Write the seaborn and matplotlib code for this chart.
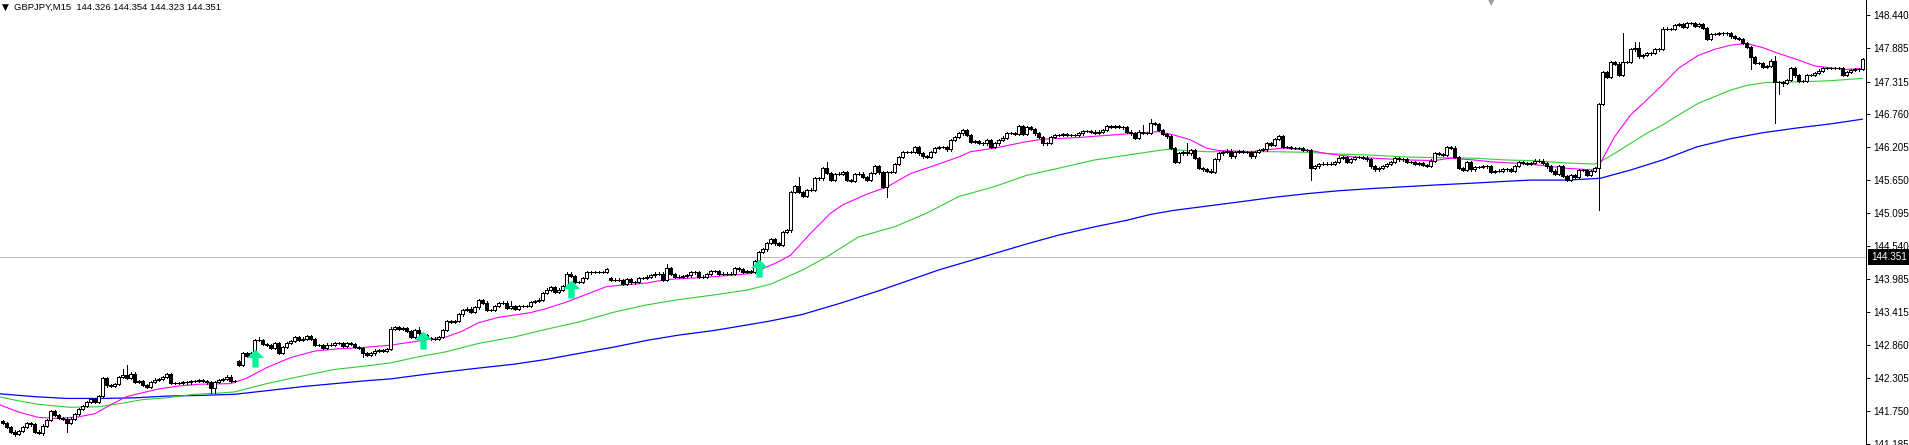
import numpy as np
import matplotlib
matplotlib.use("Agg")
import matplotlib.pyplot as plt
from matplotlib.path import Path
import seaborn as sns

# ─────────────────────────────
# DATA
# ─────────────────────────────
SYMBOL = "GBPJPY,M15"
LAST_BAR = ["144.326", "144.354", "144.323", "144.351"]
BID = 144.351

FIRST_OPEN = 141.58
CLOSES = [
    141.55, 141.48, 141.40, 141.36, 141.41, 141.48, 141.55, 141.52, 141.40, 141.38,
    141.50, 141.60, 141.74, 141.68, 141.63, 141.62, 141.55, 141.62, 141.70, 141.78,
    141.83, 141.90, 141.95, 141.90, 142.00, 142.30, 142.18, 142.17, 142.20, 142.32,
    142.35, 142.31, 142.38, 142.24, 142.25, 142.19, 142.15, 142.24, 142.28, 142.29,
    142.32, 142.37, 142.22, 142.22, 142.22, 142.23, 142.23, 142.26, 142.25, 142.27,
    142.25, 142.23, 142.14, 142.24, 142.27, 142.29, 142.33, 142.26, 142.26, 142.52,
    142.73, 142.68, 142.72, 142.95, 142.95, 142.88, 142.86, 142.81, 142.89, 142.73,
    142.83, 142.90, 142.93, 142.99, 142.95, 142.97, 143.01, 142.96, 142.86, 142.86,
    142.82, 142.87, 142.87, 142.90, 142.90, 142.85, 142.89, 142.88, 142.83, 142.81,
    142.72, 142.69, 142.72, 142.77, 142.78, 142.76, 142.80, 143.14, 143.16, 143.14,
    143.15, 143.10, 143.00, 143.12, 143.06, 143.03, 142.98, 142.96, 142.97, 143.00,
    143.12, 143.27, 143.26, 143.27, 143.38, 143.45, 143.48, 143.42, 143.50, 143.62,
    143.58, 143.46, 143.45, 143.52, 143.57, 143.58, 143.49, 143.52, 143.48, 143.52,
    143.52, 143.52, 143.59, 143.61, 143.63, 143.74, 143.80, 143.84, 143.76, 143.80,
    143.86, 144.07, 144.03, 143.93, 143.93, 144.00, 144.09, 144.10, 144.10, 144.10,
    144.10, 144.14, 143.97, 143.97, 143.96, 143.90, 143.98, 143.92, 143.93, 144.00,
    144.00, 144.02, 144.04, 144.07, 144.07, 143.96, 144.16, 144.06, 144.01, 144.02,
    144.03, 144.04, 144.09, 144.10, 144.02, 144.01, 144.06, 144.11, 144.11, 144.07,
    144.07, 144.06, 144.07, 144.16, 144.14, 144.10, 144.11, 144.10, 144.28, 144.43,
    144.48, 144.59, 144.65, 144.58, 144.55, 144.77, 144.80, 145.45, 145.55, 145.45,
    145.38, 145.48, 145.49, 145.68, 145.68, 145.85, 145.77, 145.66, 145.75, 145.76,
    145.79, 145.65, 145.64, 145.75, 145.76, 145.70, 145.66, 145.77, 145.88, 145.78,
    145.53, 145.79, 145.79, 145.92, 146.04, 146.13, 146.13, 146.12, 146.21, 146.10,
    146.05, 146.04, 146.13, 146.19, 146.21, 146.21, 146.17, 146.33, 146.38, 146.44,
    146.50, 146.41, 146.30, 146.31, 146.28, 146.27, 146.33, 146.21, 146.27, 146.33,
    146.37, 146.45, 146.45, 146.43, 146.56, 146.43, 146.54, 146.51, 146.44, 146.38,
    146.27, 146.28, 146.38, 146.41, 146.41, 146.43, 146.41, 146.41, 146.41, 146.44,
    146.48, 146.48, 146.47, 146.45, 146.47, 146.50, 146.56, 146.55, 146.56, 146.55,
    146.54, 146.47, 146.44, 146.36, 146.47, 146.45, 146.45, 146.62, 146.60, 146.50,
    146.43, 146.39, 146.19, 145.96, 146.10, 146.13, 146.10, 146.16, 146.02, 145.85,
    145.83, 145.81, 145.79, 146.00, 146.10, 146.13, 146.15, 146.05, 146.13, 146.14,
    146.12, 146.13, 146.05, 146.13, 146.16, 146.17, 146.28, 146.25, 146.35, 146.40,
    146.21, 146.21, 146.19, 146.19, 146.19, 146.16, 146.16, 145.85, 145.88, 145.92,
    145.93, 145.92, 145.93, 145.96, 146.03, 146.04, 145.96, 146.01, 146.04, 146.04,
    146.03, 146.00, 145.88, 145.83, 145.85, 145.89, 145.92, 145.96, 146.02, 146.00,
    146.00, 145.96, 145.96, 145.93, 145.94, 145.90, 145.89, 145.98, 146.10, 146.09,
    146.08, 146.21, 146.20, 146.04, 145.85, 145.82, 145.96, 145.83, 145.87, 145.87,
    145.88, 145.88, 145.79, 145.80, 145.81, 145.83, 145.84, 145.81, 145.89, 145.96,
    145.94, 145.93, 145.94, 145.98, 145.98, 145.94, 145.88, 145.81, 145.76, 145.88,
    145.72, 145.65, 145.74, 145.70, 145.82, 145.82, 145.74, 145.80, 145.85, 146.94,
    147.48, 147.40, 147.65, 147.62, 147.43, 147.65, 147.65, 147.86, 147.88, 147.74,
    147.76, 147.79, 147.80, 147.86, 147.87, 148.21, 148.20, 148.20, 148.27, 148.29,
    148.24, 148.31, 148.31, 148.26, 148.29, 148.22, 148.03, 148.12, 148.12, 148.13,
    148.14, 148.13, 148.08, 148.05, 148.03, 147.97, 147.90, 147.73, 147.63, 147.63,
    147.57, 147.58, 147.67, 147.31, 147.31, 147.29, 147.34, 147.54, 147.42, 147.33,
    147.32, 147.43, 147.43, 147.46, 147.50, 147.54, 147.54, 147.54, 147.55, 147.55,
    147.43, 147.48, 147.51, 147.52, 147.53, 147.69,
]

# bars that opened away from the previous close
GAP_OPENS = {59: 142.59, 152: 143.99}

# long shadows
HIGH_WICKS = {25: 142.33, 30: 142.46, 31: 142.52, 64: 143.00, 104: 143.17,
              127: 143.60, 166: 144.23, 199: 145.70, 206: 145.96, 285: 146.58,
              287: 146.68, 296: 146.28, 320: 146.42, 405: 148.13, 408: 147.99,
              409: 147.99, 415: 148.24, 443: 147.75}
LOW_WICKS = {2: 141.38, 3: 141.32, 8: 141.37, 10: 141.35, 16: 141.40,
             52: 142.05, 53: 142.05, 90: 142.66, 221: 145.36, 327: 145.65,
             399: 145.15, 437: 147.52, 443: 146.61, 444: 147.10, 445: 147.24}

# moving averages (bar index, price)
MA_FAST_X = [-1, 4, 9, 14, 19, 23, 27, 31, 34, 39, 44, 49, 57, 61, 66, 72, 78, 84,
             90, 97, 103, 111, 115, 119, 124, 132, 136, 141, 146, 151, 154, 161,
             166, 174, 182, 187, 190, 194, 197, 202, 207, 210, 216, 221, 227, 234,
             239, 242, 248, 256, 260, 269, 277, 285, 289, 293, 297, 301, 304, 312,
             316, 320, 326, 331, 338, 343, 351, 358, 362, 368, 372, 382, 391, 398,
             399.4, 403, 407, 411, 415, 419, 424, 428, 432, 436, 440, 444, 449,
             453, 458, 461, 465]
MA_FAST = [141.86, 141.73, 141.64, 141.62, 141.65, 141.70, 141.85, 141.99, 142.04,
           142.12, 142.17, 142.20, 142.21, 142.30, 142.48, 142.65, 142.76, 142.80,
           142.82, 142.86, 142.92, 143.00, 143.10, 143.24, 143.33, 143.41, 143.48,
           143.59, 143.72, 143.85, 143.87, 143.91, 143.97, 144.00, 144.04, 144.07,
           144.15, 144.27, 144.38, 144.75, 145.09, 145.23, 145.41, 145.53, 145.76,
           145.92, 146.04, 146.13, 146.19, 146.30, 146.34, 146.37, 146.41, 146.45,
           146.47, 146.41, 146.33, 146.19, 146.15, 146.13, 146.16, 146.19, 146.16,
           146.10, 146.04, 146.02, 145.99, 145.98, 146.02, 145.99, 145.96, 145.92,
           145.85, 145.82, 145.93, 146.38, 146.75, 147.00, 147.26, 147.54, 147.76,
           147.86, 147.93, 147.96, 147.89, 147.79, 147.68, 147.58, 147.54, 147.52,
           147.54]

MA_MID_X = [-1, 4, 9, 17, 24, 30, 35, 41, 48, 54, 58, 66, 75, 83, 91, 97, 103, 111,
            119, 128, 136, 144, 153, 161, 169, 178, 186, 192, 200, 206, 214, 223,
            231, 239, 248, 256, 264, 273, 281, 287, 291, 301, 318, 326, 334, 343,
            351, 359, 368, 376, 382, 391, 398, 399.4, 403, 407, 411, 415, 419, 424,
            428, 432, 436, 441, 449, 457, 465]
MA_MID = [141.99, 141.92, 141.86, 141.81, 141.82, 141.88, 141.94, 141.97, 142.03,
          142.05, 142.07, 142.21, 142.34, 142.45, 142.51, 142.56, 142.65, 142.75,
          142.89, 143.00, 143.13, 143.25, 143.42, 143.54, 143.63, 143.71, 143.79,
          143.89, 144.13, 144.35, 144.69, 144.86, 145.09, 145.37, 145.54, 145.73,
          145.85, 145.99, 146.07, 146.13, 146.17, 146.13, 146.13, 146.12, 146.09,
          146.07, 146.04, 146.03, 146.02, 145.99, 145.98, 145.94, 145.92, 145.96,
          146.10, 146.27, 146.44, 146.58, 146.75, 146.95, 147.06, 147.17, 147.25,
          147.30, 147.31, 147.33, 147.37]

MA_SLOW_X = [-1, 8, 16, 25, 33, 41, 49, 58, 66, 75, 83, 91, 97, 106, 116, 128, 136,
             144, 153, 161, 169, 178, 186, 192, 200, 210, 220, 234, 248, 256, 264,
             273, 281, 287, 293, 301, 309, 318, 326, 334, 343, 351, 359, 368, 376,
             382, 391, 399.4, 407, 415, 423.5, 432, 440, 448.5, 457, 465]
MA_SLOW = [142.04, 141.99, 141.96, 141.96, 141.97, 142.00, 142.01, 142.03, 142.09,
           142.16, 142.21, 142.26, 142.29, 142.37, 142.45, 142.54, 142.62, 142.72,
           142.83, 142.94, 143.03, 143.11, 143.20, 143.27, 143.38, 143.58, 143.80,
           144.13, 144.41, 144.57, 144.72, 144.86, 144.97, 145.07, 145.14, 145.21,
           145.28, 145.36, 145.42, 145.47, 145.51, 145.54, 145.57, 145.60, 145.63,
           145.65, 145.65, 145.68, 145.82, 145.99, 146.21, 146.35, 146.45, 146.53,
           146.60, 146.68]

# signal arrows (bar index, price of the tip)
ARROW_X = [63, 105, 142, 189]
ARROW_Y = [142.80, 143.10, 143.97, 144.31]

PRICE_TICKS = [148.440, 147.885, 147.315, 146.760, 146.205, 145.650, 145.095,
               144.540, 143.985, 143.415, 142.860, 142.305, 141.750, 141.185]

# ─────────────────────────────
# OHLC
# ─────────────────────────────
closes = np.array(CLOSES)
idx = np.arange(len(closes))
opens = np.concatenate([[FIRST_OPEN], closes[:-1]])
for i, o in GAP_OPENS.items():
    opens[i] = o
WICK = 0.02
highs = np.maximum(opens, closes) + WICK
lows = np.minimum(opens, closes) - WICK
for i, h in HIGH_WICKS.items():
    highs[i] = h
for i, l in LOW_WICKS.items():
    lows[i] = l

# ─────────────────────────────
# PLOT
# ─────────────────────────────
sns.set_style("white")
plt.rcParams["font.family"] = ["Liberation Sans", "DejaVu Sans"]

W, H = 1909, 445
PX = 0.72  # one pixel in points
fig = plt.figure(figsize=(W / 100, H / 100), dpi=100)
ax = fig.add_axes([0, 0, 1866 / W, 1])

ax.axhline(BID, color="#C0C0C0", linewidth=PX, zorder=1)

sns.lineplot(x=MA_SLOW_X, y=MA_SLOW, color="#0000FF", linewidth=0.9,
             estimator=None, sort=False, ax=ax, zorder=2)
sns.lineplot(x=MA_MID_X, y=MA_MID, color="#32CD32", linewidth=0.8,
             estimator=None, sort=False, ax=ax, zorder=2)
sns.lineplot(x=MA_FAST_X, y=MA_FAST, color="#FF00FF", linewidth=0.8,
             estimator=None, sort=False, ax=ax, zorder=2)

# candles
ax.vlines(idx, lows, highs, colors="black", linewidth=PX, zorder=3,
          antialiased=False)
bull = closes >= opens
ax.bar(idx, np.abs(closes - opens), bottom=np.minimum(opens, closes),
       width=0.72, color=np.where(bull, "white", "black"), edgecolor="black",
       linewidth=PX, zorder=4, antialiased=False)

# arrows
verts = [(0, 0), (8, -8), (3, -8), (3, -17), (-3, -17), (-3, -8), (-8, -8), (0, 0)]
codes = [Path.MOVETO] + [Path.LINETO] * 6 + [Path.CLOSEPOLY]
arrow = Path(verts, codes)
ax.plot(ARROW_X, ARROW_Y, linestyle="none", marker=arrow, markersize=26,
        color="#00F59A", markeredgewidth=0, zorder=5)

ax.set_xlim(-0.625, -0.625 + 1866 / 4)
ax.set_ylim(141.173, 148.694)

ax.set_xticks([])
ax.yaxis.tick_right()
ax.set_yticks(PRICE_TICKS)
ax.set_yticklabels([f"{v:.3f}" for v in PRICE_TICKS])
ax.tick_params(axis="y", direction="out", length=3, width=PX, pad=2,
               labelsize=7.1, colors="black")
for side in ["top", "left", "bottom"]:
    ax.spines[side].set_visible(False)
ax.spines["right"].set_color("black")
ax.spines["right"].set_linewidth(PX)

# current price box
ax.text(1.0028, BID, f"{BID:.3f}", transform=ax.get_yaxis_transform(),
        color="white", fontsize=7.1, va="center", ha="left",
        bbox=dict(boxstyle="square,pad=0.28", facecolor="black", edgecolor="none"))

# header
fig.text(2 / W, 1 - 7 / H, "▼", fontsize=6.5, va="center", ha="left",
         color="black", family="DejaVu Sans")
fig.text(14 / W, 1 - 7 / H, f"{SYMBOL}  " + " ".join(LAST_BAR),
         fontsize=6.8, va="center", ha="left", color="black")
# chart shift marker
fig.text(1491 / W, 1 + 2 / H, "▼", fontsize=6, va="top", ha="center",
         color="#A0A0A0", family="DejaVu Sans")

fig.savefig("out.png", dpi=100)
